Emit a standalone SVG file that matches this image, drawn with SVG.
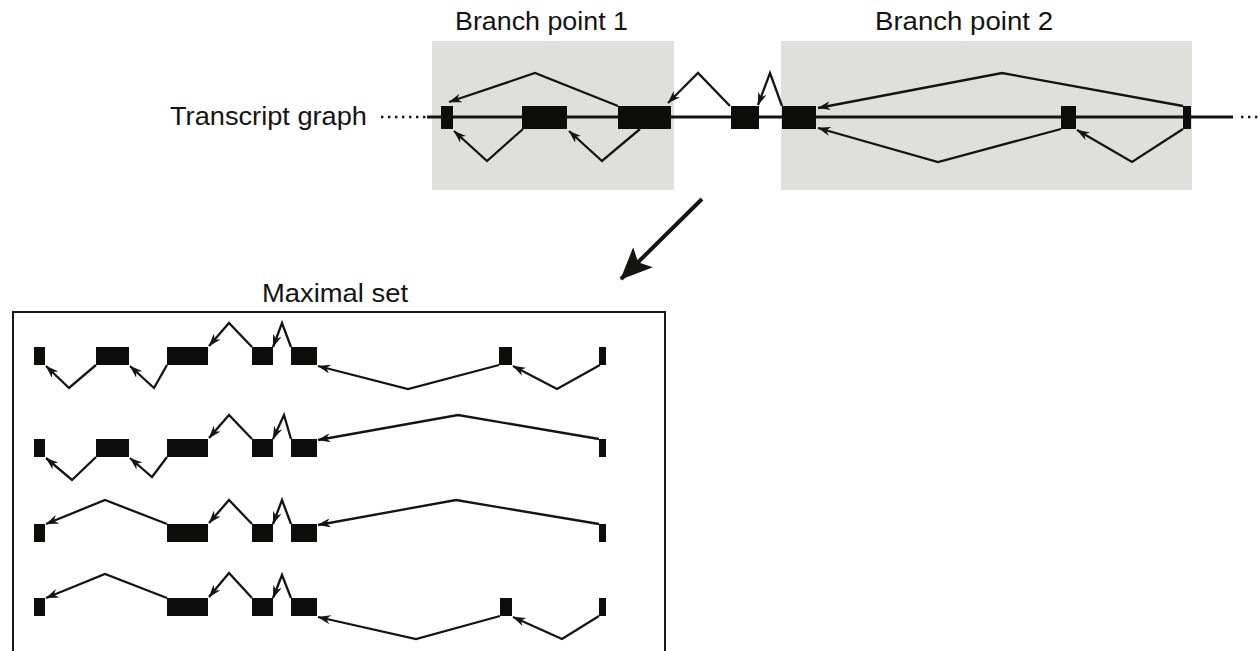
<svg xmlns="http://www.w3.org/2000/svg" width="1260" height="651" viewBox="0 0 1260 651">
  <style>
    .lbl { font-family: "Liberation Sans", Arial, sans-serif; font-size: 25.5px; fill: #141414; }
    .bp { fill: #dfdfdb; }
    .ex { fill: #0d0d0b; }
    .intr { fill: none; stroke: #141412; stroke-width: 2.3; stroke-linejoin: miter; marker-end: url(#ah); }
    .backbone { stroke: #141412; stroke-width: 3; }
    .dots { stroke: #141412; stroke-width: 2.4; stroke-dasharray: 2.4 4.6; }
  </style>
  <defs>
    <marker id="ah" viewBox="0 0 13 9" refX="12.5" refY="4.5" markerWidth="13" markerHeight="9" markerUnits="userSpaceOnUse" orient="auto">
      <path d="M0,0 L13,4.5 L0,9 L4,4.5 Z" fill="#141412"/>
    </marker>
    <marker id="big" viewBox="0 0 32 28" refX="31" refY="14" markerWidth="32" markerHeight="28" markerUnits="userSpaceOnUse" orient="auto">
      <path d="M0,0 L32,14 L0,28 L7,14 Z" fill="#141412"/>
    </marker>
  </defs>

  <!-- labels -->
  <text class="lbl" x="455" y="30" textLength="173" lengthAdjust="spacingAndGlyphs">Branch point 1</text>
  <text class="lbl" x="875" y="30" textLength="178" lengthAdjust="spacingAndGlyphs">Branch point 2</text>
  <text class="lbl" x="170" y="125" textLength="197" lengthAdjust="spacingAndGlyphs">Transcript graph</text>
  <text class="lbl" x="262" y="302" textLength="146" lengthAdjust="spacingAndGlyphs">Maximal set</text>

  <!-- branch point regions -->
  <rect id="branch1" class="bp" x="432" y="41" width="242" height="149"/>
  <rect id="branch2" class="bp" x="781" y="41" width="411" height="149"/>

  <!-- transcript graph backbone -->
  <line class="dots" x1="381" y1="117" x2="427" y2="117"/>
  <line class="backbone" x1="427" y1="117" x2="1233" y2="117"/>
  <line class="dots" x1="1241" y1="117" x2="1260" y2="117"/>

  <!-- transcript graph exons -->
  <g id="graph-exons">
    <rect id="g1" class="ex" x="441" y="106" width="12" height="23"/>
    <rect id="g2" class="ex" x="522" y="106" width="45" height="23"/>
    <rect id="g3" class="ex" x="618" y="106" width="53" height="23"/>
    <rect id="g4" class="ex" x="731" y="106" width="28" height="23"/>
    <rect id="g5" class="ex" x="782" y="106" width="34" height="23"/>
    <rect id="g6" class="ex" x="1061" y="106" width="15" height="23"/>
    <rect id="g7" class="ex" x="1183" y="106" width="8" height="23"/>
  </g>

  <!-- maximal set box -->
  <g id="maximal-set">
    <path d="M13,651 L13,312 L665,312 L665,651" fill="none" stroke="#1a1a1a" stroke-width="2"/>
  </g>

  <!-- transcripts of the maximal set -->
  <g id="t1">
    <rect class="ex" x="34" y="347" width="11" height="18"/>
    <rect class="ex" x="96" y="347" width="33" height="18"/>
    <rect class="ex" x="167" y="347" width="41" height="18"/>
    <rect class="ex" x="252" y="347" width="21" height="18"/>
    <rect class="ex" x="291" y="347" width="26" height="18"/>
    <rect class="ex" x="499" y="347" width="13" height="18"/>
    <rect class="ex" x="599" y="347" width="7" height="18"/>
  </g>
  <g id="t2">
    <rect class="ex" x="34" y="439" width="11" height="18"/>
    <rect class="ex" x="96" y="439" width="33" height="18"/>
    <rect class="ex" x="167" y="439" width="41" height="18"/>
    <rect class="ex" x="252" y="439" width="21" height="18"/>
    <rect class="ex" x="291" y="439" width="26" height="18"/>
    <rect class="ex" x="599" y="439" width="7" height="18"/>
  </g>
  <g id="t3">
    <rect class="ex" x="34" y="524" width="11" height="18"/>
    <rect class="ex" x="167" y="524" width="41" height="18"/>
    <rect class="ex" x="252" y="524" width="21" height="18"/>
    <rect class="ex" x="291" y="524" width="26" height="18"/>
    <rect class="ex" x="599" y="524" width="7" height="18"/>
  </g>
  <g id="t4">
    <rect class="ex" x="34" y="598" width="11" height="18"/>
    <rect class="ex" x="167" y="598" width="41" height="18"/>
    <rect class="ex" x="252" y="598" width="21" height="18"/>
    <rect class="ex" x="291" y="598" width="26" height="18"/>
    <rect class="ex" x="500" y="598" width="12" height="18"/>
    <rect class="ex" x="599" y="598" width="7" height="18"/>
  </g>

  <!-- splice junctions -->
  <g id="connectors">
    <!-- transcript graph -->
    <polyline class="intr" points="618,106 535,73 449,102"/>
    <polyline class="intr" points="523,129 487,161 454,131"/>
    <polyline class="intr" points="640,129 602,161 569,131"/>
    <polyline class="intr" points="730,106 698,73 668,103"/>
    <polyline class="intr" points="782,106 770,73 758,105"/>
    <polyline class="intr" points="1183,106 1002,73 818,108"/>
    <polyline class="intr" points="1061,129 938,162 818,128"/>
    <polyline class="intr" points="1183,129 1132,162 1077,130"/>

    <!-- graph to maximal set -->
    <line x1="702" y1="199" x2="621" y2="279" stroke="#141412" stroke-width="4" marker-end="url(#big)"/>

    <!-- transcript 1 -->
    <polyline class="intr" points="96,365 69,388 46,366"/>
    <polyline class="intr" points="167,365 154,388 130,366"/>
    <polyline class="intr" points="252,347 229,323 209,346"/>
    <polyline class="intr" points="291,347 282,323 273,347"/>
    <polyline class="intr" points="499,365 408,389 318,366"/>
    <polyline class="intr" points="600,365 557,389 513,366"/>

    <!-- transcript 2 -->
    <polyline class="intr" points="96,457 72,480 46,458"/>
    <polyline class="intr" points="167,457 152,477 130,458"/>
    <polyline class="intr" points="252,439 229,415 209,438"/>
    <polyline class="intr" points="291,439 284,415 273,439"/>
    <polyline class="intr" points="599,439 458,415 318,440"/>

    <!-- transcript 3 -->
    <polyline class="intr" points="167,524 105,500 46,524"/>
    <polyline class="intr" points="252,524 229,500 209,523"/>
    <polyline class="intr" points="291,524 282,500 273,524"/>
    <polyline class="intr" points="599,524 456,500 318,525"/>

    <!-- transcript 4 -->
    <polyline class="intr" points="167,598 105,574 46,598"/>
    <polyline class="intr" points="252,598 229,573 209,597"/>
    <polyline class="intr" points="291,598 282,575 273,598"/>
    <polyline class="intr" points="500,616 416,639 318,617"/>
    <polyline class="intr" points="599,616 562,639 513,617"/>
  </g>
</svg>
